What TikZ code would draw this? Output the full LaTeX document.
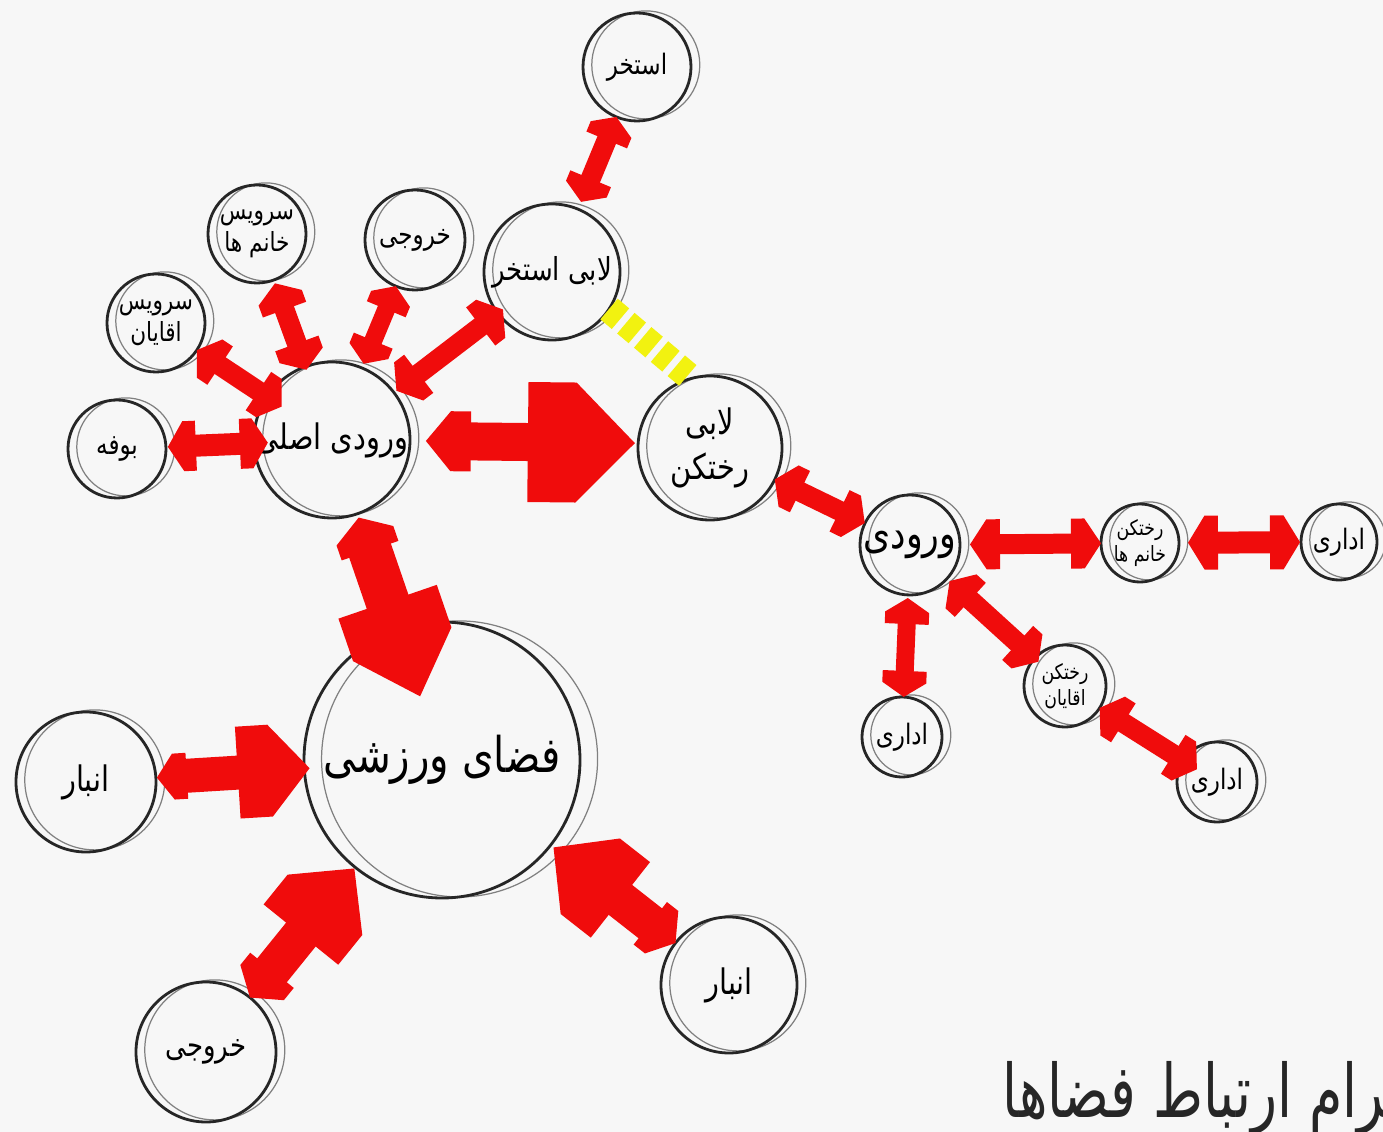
\documentclass[tikz,border=0pt]{standalone}
\usepackage{fontspec}
\usepackage{tikz}
\usetikzlibrary{positioning}
\newfontfamily\fafont[Script=Arabic,FakeStretch=0.82]{DejaVu Sans}
\newfontfamily\titlefont[Script=Arabic,FakeStretch=0.73]{DejaVu Sans}
\TeXXeTstate=1
\newcommand{\rl}[1]{\beginR #1\endR}
\newcommand{\fasize}[2]{\fafont\fontsize{#1}{#2}\selectfont}
\definecolor{bgc}{RGB}{247,247,247}
\definecolor{arrowred}{RGB}{240,12,12}
\definecolor{dashyellow}{RGB}{242,242,16}
\tikzset{
  pics/redarrow/.style n args={6}{code={
    \fill[arrowred] (0,0) -- (0.55*#3,#4) -- (#3,#4) -- (#3,-#4) -- (0.55*#3,-#4) -- cycle;
    \fill[arrowred] (#1,0) -- (#1-0.55*#5,#6) -- (#1-#5,#6) -- (#1-#5,-#6) -- (#1-0.55*#5,-#6) -- cycle;
    \fill[arrowred] (#3-0.01,-#2/2) rectangle (#1-#5+0.01,#2/2);
  }}
}

\begin{document}
\begin{tikzpicture}[on grid,allow upside down,line join=round]
\tikzstyle{bubble}=[circle,thick,draw=black!85,inner sep=0pt,outer sep=0pt,align=center,font=\fasize{7.5}{9}]
\tikzstyle{ring}=[preaction={draw=black!50,line width=0.35pt,transform canvas={xshift=2.5pt,yshift=0.6pt}}]
\tikzstyle{widering}=[preaction={draw=black!50,line width=0.35pt,transform canvas={xshift=5pt,yshift=0.3pt}}]
\tikzstyle{yellowlink}=[draw=dashyellow,line width=0.27cm,dash pattern=on 0.15cm off 0.07cm]
\tikzstyle{titletext}=[inner sep=0pt,text=black!85,font=\titlefont\fontsize{21}{24}\selectfont]

\useasboundingbox (-3.32,-6.92) rectangle (10.51,4.40);
\fill[bgc] (-3.32,-6.92) rectangle (10.51,4.40);

\node[bubble,ring,minimum size=1.28cm,font=\fasize{10}{12}] (main) {\rl{ورودی اصلی}};
\node[bubble,ring,minimum size=1.36cm,font=\fasize{9}{11}] (poollobby) [above right=1.68cm and 2.20cm of main] {\rl{لابی استخر}};
\node[bubble,ring,minimum size=1.08cm,font=\fasize{8}{10}] (pool) [above right=2.05cm and 0.85cm of poollobby] {\rl{استخر}};
\node[bubble,ring,minimum size=1.00cm,font=\fasize{8}{10}] (exit1) [above right=2.00cm and 0.83cm of main] {\rl{خروجی}};
\node[bubble,ring,minimum size=0.98cm] (wcw) [above left=2.06cm and 0.75cm of main] {\rl{سرویس}\\\rl{خانم ها}};
\node[bubble,ring,minimum size=0.98cm] (wcm) [above left=1.17cm and 1.76cm of main] {\rl{سرویس}\\\rl{اقایان}};
\node[bubble,ring,minimum size=0.98cm,font=\fasize{8}{10}] (buffet) [below left=0.09cm and 2.15cm of main] {\rl{بوفه}};
\node[bubble,ring,minimum size=1.44cm,font=\fasize{10}{13}] (lockerlobby) [below right=0.08cm and 3.78cm of main] {\rl{لابی}\\\rl{رختکن}};
\node[bubble,ring,minimum size=1.00cm,font=\fasize{12}{14}] (entry) [below right=0.97cm and 2.00cm of lockerlobby] {\rl{ورودی}};
\node[bubble,ring,minimum size=0.78cm,font=\fasize{6}{7.5}] (lockerw) [above right=0.02cm and 2.30cm of entry] {\rl{رختکن}\\\rl{خانم ها}};
\node[bubble,ring,minimum size=0.76cm,font=\fasize{8}{10}] (office1) [above right=0.01cm and 1.99cm of lockerw] {\rl{اداری}};
\node[bubble,ring,minimum size=0.82cm,font=\fasize{6}{7.5}] (lockerm) [below right=1.41cm and 1.55cm of entry] {\rl{رختکن}\\\rl{اقایان}};
\node[bubble,ring,minimum size=0.80cm,font=\fasize{8}{10}] (office2) [below left=1.92cm and 0.08cm of entry] {\rl{اداری}};
\node[bubble,ring,minimum size=0.80cm,font=\fasize{8}{10}] (office3) [below right=0.96cm and 1.52cm of lockerm] {\rl{اداری}};
\node[bubble,widering,minimum size=2.76cm,font=\fasize{14}{16}] (sport) [below right=3.20cm and 1.10cm of main] {\rl{فضای ورزشی}};
\node[bubble,ring,minimum size=1.40cm,font=\fasize{10}{12}] (store1) [below left=0.22cm and 3.56cm of sport] {\rl{انبار}};
\node[bubble,ring,minimum size=1.40cm,font=\fasize{9}{11}] (exit2) [below left=2.92cm and 2.36cm of sport] {\rl{خروجی}};
\node[bubble,ring,minimum size=1.36cm,font=\fasize{10}{12}] (store2) [below right=2.25cm and 2.87cm of sport] {\rl{انبار}};
\coordinate[below right=0.03cm and 2.90cm of main] (mainout);

\draw[yellowlink] (poollobby.-33) -- (lockerlobby.105);

\path (main) -- pic[pos=0.075,sloped]{redarrow={2.09}{0.38}{0.45}{0.30}{1.07}{0.60}} (mainout);
\path (main) -- pic[pos=0.033,sloped]{redarrow={1.89}{0.44}{0.35}{0.30}{1.00}{0.52}} (sport);
\path (store1) -- pic[pos=0.007,sloped]{redarrow={1.53}{0.34}{0.30}{0.23}{0.72}{0.46}} (sport);
\path (exit2) -- pic[pos=0,sloped]{redarrow={1.66}{0.38}{0.35}{0.28}{0.85}{0.48}} (sport);
\path (store2) -- pic[pos=0,sloped]{redarrow={1.55}{0.38}{0.32}{0.27}{0.85}{0.48}} (sport);
\path (pool) -- pic[pos=0,sloped]{redarrow={0.92}{0.20}{0.25}{0.22}{0.25}{0.22}} (poollobby);
\path (poollobby) -- pic[pos=-0.048,sloped]{redarrow={1.34}{0.20}{0.28}{0.24}{0.28}{0.24}} (main);
\path (exit1) -- pic[pos=0,sloped]{redarrow={0.84}{0.18}{0.25}{0.21}{0.25}{0.21}} (main);
\path (wcw) -- pic[pos=0.038,sloped]{redarrow={0.92}{0.20}{0.28}{0.23}{0.28}{0.23}} (main);
\path (wcm) -- pic[pos=0,sloped]{redarrow={1.02}{0.20}{0.28}{0.23}{0.28}{0.23}} (main);
\path (buffet) -- pic[pos=0.022,sloped]{redarrow={1.00}{0.22}{0.28}{0.25}{0.28}{0.25}} (main);
\path (lockerlobby) -- pic[pos=0,sloped]{redarrow={1.00}{0.20}{0.28}{0.23}{0.28}{0.23}} (entry);
\path (entry) -- pic[pos=0.071,sloped]{redarrow={1.31}{0.20}{0.30}{0.25}{0.30}{0.25}} (lockerw);
\path (lockerw) -- pic[pos=0.074,sloped]{redarrow={1.12}{0.22}{0.30}{0.27}{0.30}{0.27}} (office1);
\path (entry) -- pic[pos=0.03,sloped]{redarrow={0.99}{0.18}{0.26}{0.22}{0.26}{0.22}} (office2);
\path (entry) -- pic[pos=0.03,sloped]{redarrow={1.20}{0.20}{0.28}{0.23}{0.28}{0.23}} (lockerm);
\path (lockerm) -- pic[pos=0,sloped]{redarrow={1.15}{0.20}{0.28}{0.23}{0.28}{0.23}} (office3);

\node[titletext,anchor=base west] (title) at (6.70,-6.77) {\rl{دیاگرام ارتباط فضاها}};
\end{tikzpicture}
\end{document}
